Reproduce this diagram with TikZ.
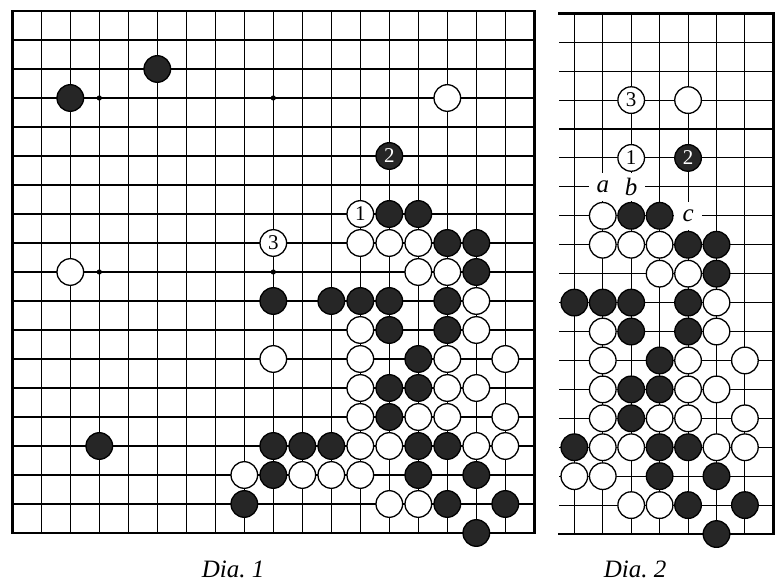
\documentclass[tikz,border=0pt]{standalone}
\usepackage{fontspec}
\setmainfont{Liberation Serif}
\usetikzlibrary{positioning}

\begin{document}
\begin{tikzpicture}[
    gridline/.style={line width=1.1pt},
    boardedge/.style={line width=2.6pt, line cap=rect, line join=miter},
    stone/.style={circle, minimum size=26.6pt, inner sep=0pt, line width=1.3pt,
                  font=\fontsize{21}{21}\selectfont},
    blk/.style={stone, draw=black, fill=black!85, text=white},
    wht/.style={stone, draw=black, fill=white},
    hoshi/.style={fill=black},
    lbl/.style={fill=white, inner sep=0pt, minimum size=28pt,
                font=\itshape\fontsize{25}{25}\selectfont},
    caption/.style={anchor=base, font=\itshape\fontsize{25}{25}\selectfont},
  ]
  \useasboundingbox (0,0) rectangle (776pt,581pt);

  % Dia. 1 -- whole board
  \begin{scope}[shift={(12.3pt,570pt)}, x=29pt, y=-29pt]
    \foreach \i in {1,...,17} {
      \draw[gridline] (\i,0) -- (\i,18);
      \draw[gridline] (0,\i) -- (18,\i);
    }
    \draw[boardedge] (0,0) rectangle (18,18);
    \foreach \c in {3,9,15}
      \foreach \r in {3,9,15}
        \fill[hoshi] (\c,\r) circle (2.6pt);

    \foreach \c/\r in {2/3, 5/2, 13/7, 14/7, 15/8, 16/8, 16/9, 9/10, 11/10,
        12/10, 13/10, 15/10, 13/11, 15/11, 14/12, 13/13, 14/13, 13/14, 3/15,
        9/15, 10/15, 11/15, 14/15, 15/15, 9/16, 14/16, 16/16, 8/17, 15/17,
        17/17, 16/18}
      \node[blk] (L-\c-\r) at (\c,\r) {};
    \foreach \c/\r in {15/3, 2/9, 12/8, 13/8, 14/8, 14/9, 15/9, 16/10, 12/11,
        16/11, 9/12, 12/12, 15/12, 17/12, 12/13, 15/13, 16/13, 12/14, 14/14,
        15/14, 17/14, 12/15, 13/15, 16/15, 17/15, 8/16, 10/16, 11/16, 12/16,
        13/17, 14/17}
      \node[wht] (L-\c-\r) at (\c,\r) {};

    \node[wht] (L-w1) at (12,7) {1};
    \node[blk] (L-b2) at (13,5) {2};
    \node[wht] (L-w3) at (9,8) {3};
  \end{scope}

  % Dia. 2 -- right side only
  \begin{scope}[shift={(261.6pt,567.7pt)}, x=28.43pt, y=-28.93pt]
    \foreach \i in {11,...,17}
      \draw[gridline] (\i,0) -- (\i,18);
    \foreach \i in {1,...,17}
      \draw[gridline] (10.47,\i) -- (18,\i);
    \draw[boardedge] (10.47,0) -- (18,0) -- (18,18) -- (10.47,18);

    \foreach \c/\r in {13/7, 14/7, 15/8, 16/8, 16/9, 11/10, 12/10, 13/10,
        15/10, 13/11, 15/11, 14/12, 13/13, 14/13, 13/14, 11/15, 14/15, 15/15,
        14/16, 16/16, 15/17, 17/17, 16/18}
      \node[blk] (R-\c-\r) at (\c,\r) {};
    \foreach \c/\r in {15/3, 12/7, 12/8, 13/8, 14/8, 14/9, 15/9, 16/10, 12/11,
        16/11, 12/12, 15/12, 17/12, 12/13, 15/13, 16/13, 12/14, 14/14, 15/14,
        17/14, 12/15, 13/15, 16/15, 17/15, 11/16, 12/16, 13/17, 14/17}
      \node[wht] (R-\c-\r) at (\c,\r) {};

    \node[wht] (R-w1) at (13,5) {1};
    \node[blk] (R-b2) at (15,5) {2};
    \node[wht] (R-w3) at (13,3) {3};

    \node[lbl] (R-a) at (12,6) {a};
    \node[lbl] (R-b) at (13,6) {b};
    \node[lbl] (R-c) at (15,7) {c};
  \end{scope}

  \node[caption] (cap1) at (233pt,4pt) {Dia.\ 1};
  \node[caption] (cap2) at (635pt,4pt) {Dia.\ 2};
\end{tikzpicture}
\end{document}
